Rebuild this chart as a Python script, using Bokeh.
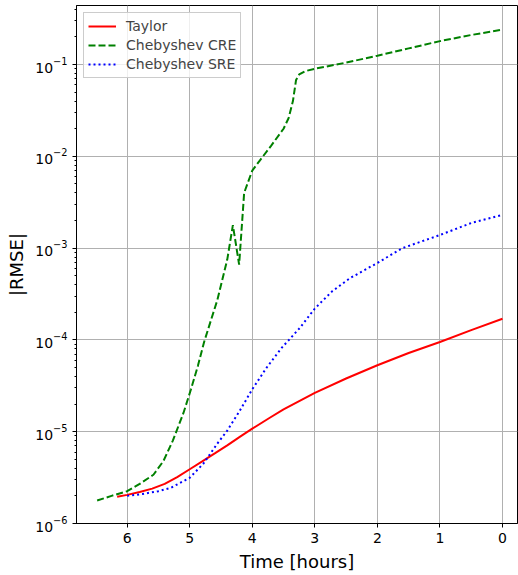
from bokeh.plotting import figure
from bokeh.models import Range1d, Legend, LegendItem, FixedTicker, LogTicker
from bokeh.embed import file_html
from bokeh.resources import INLINE

taylor_x = [6.16, 6.0, 5.8, 5.6, 5.4, 5.2, 5.0, 4.8, 4.6, 4.4, 4.2, 4.0, 3.72, 3.5, 3.0, 2.5, 2.0, 1.5, 1.0, 0.5, 0.0]
taylor_y = [1.96e-6, 2.05e-6, 2.2e-6, 2.4e-6, 2.7e-6, 3.2e-6, 3.9e-6, 4.75e-6, 5.8e-6, 7.1e-6, 8.8e-6, 1.08e-5,
            1.42e-5, 1.75e-5, 2.65e-5, 3.8e-5, 5.3e-5, 7.2e-5, 9.5e-5, 1.28e-4, 1.7e-4]

cre_x = [6.48, 6.25, 6.0, 5.8, 5.58, 5.42, 5.27, 5.1, 4.98, 4.87, 4.77, 4.56, 4.4, 4.31, 4.21, 4.13,
         4.0, 3.88, 3.7, 3.5, 3.42, 3.35, 3.3, 3.25, 3.15, 3.0, 2.5, 2.0, 1.5, 1.0, 0.5, 0.0]
cre_y = [1.78e-6, 2.0e-6, 2.25e-6, 2.7e-6, 3.4e-6, 4.8e-6, 8.0e-6, 1.6e-5, 2.9e-5, 5.2e-5, 9.5e-5,
         2.7e-4, 7.5e-4, 1.78e-3, 6.6e-4, 4.0e-3, 7.0e-3, 9.0e-3, 1.3e-2, 2.0e-2, 2.6e-2, 4.0e-2,
         6.8e-2, 7.8e-2, 8.5e-2, 9.0e-2, 1.05e-1, 1.25e-1, 1.5e-1, 1.8e-1, 2.1e-1, 2.4e-1]

sre_x = [6.0, 5.75, 5.5, 5.3, 5.0, 4.78, 4.56, 4.4, 4.2, 4.0, 3.77, 3.53, 3.24, 3.0, 2.72,
         2.44, 2.0, 1.6, 1.0, 0.48, 0.0]
sre_y = [2.0e-6, 2.1e-6, 2.25e-6, 2.45e-6, 3.15e-6, 4.5e-6, 7.4e-6, 1.03e-5, 1.69e-5, 2.9e-5, 5.0e-5,
         8.2e-5, 1.35e-4, 2.2e-4, 3.4e-4, 4.7e-4, 6.9e-4, 1.0e-3, 1.39e-3, 1.9e-3, 2.3e-3]

x_ticks = [6, 5, 4, 3, 2, 1, 0]

FONT = "DejaVu Sans"

p = figure(width=518, height=575, y_axis_type="log", output_backend="svg", toolbar_location=None,
           x_range=Range1d(6.81, -0.24), y_range=Range1d(1e-6, 0.44),
           min_border_left=76, min_border_right=1, min_border_top=5, min_border_bottom=52)

p.outline_line_color = "black"
p.outline_line_width = 1
p.background_fill_color = "white"
p.border_fill_color = "white"

for g in (p.xgrid, p.ygrid):
    g.grid_line_color = "#b0b0b0"
    g.grid_line_width = 1

p.xaxis.ticker = FixedTicker(ticks=x_ticks)
p.yaxis.ticker = LogTicker(desired_num_ticks=6, num_minor_ticks=10)

for ax in (p.xaxis, p.yaxis):
    ax.axis_line_color = "black"
    ax.major_tick_line_color = "black"
    ax.major_tick_out = 4
    ax.major_tick_in = 0
    ax.major_label_text_font = FONT
    ax.major_label_text_font_size = "14px"
    ax.major_label_text_color = "black"
    ax.axis_label_text_font = FONT
    ax.axis_label_text_font_size = "18px"
    ax.axis_label_text_font_style = "normal"
    ax.axis_label_text_color = "black"

p.xaxis.minor_tick_line_color = None
p.yaxis.minor_tick_line_color = "black"
p.yaxis.minor_tick_out = 2
p.yaxis.minor_tick_in = 0
p.xaxis.axis_label = "Time [hours]"
p.yaxis.axis_label = "|RMSE|"

r1 = p.line(taylor_x, taylor_y, line_color="red", line_width=2)
r2 = p.line(cre_x, cre_y, line_color="green", line_width=2, line_dash="7 3")
r3 = p.line(sre_x, sre_y, line_color="blue", line_width=2, line_dash="2 3")

legend = Legend(items=[LegendItem(label="Taylor", renderers=[r1]),
                       LegendItem(label="Chebyshev CRE", renderers=[r2]),
                       LegendItem(label="Chebyshev SRE", renderers=[r3])],
                location="top_left")
legend.label_text_font = FONT
legend.label_text_font_size = "14px"
legend.border_line_color = "#cccccc"
legend.border_line_alpha = 1
legend.background_fill_alpha = 0.8
legend.glyph_width = 28
legend.glyph_height = 18
legend.label_height = 18
legend.spacing = 1
legend.padding = 4
legend.margin = 7
legend.label_standoff = 10
p.add_layout(legend)

open("out.html", "w").write(file_html(p, INLINE))
